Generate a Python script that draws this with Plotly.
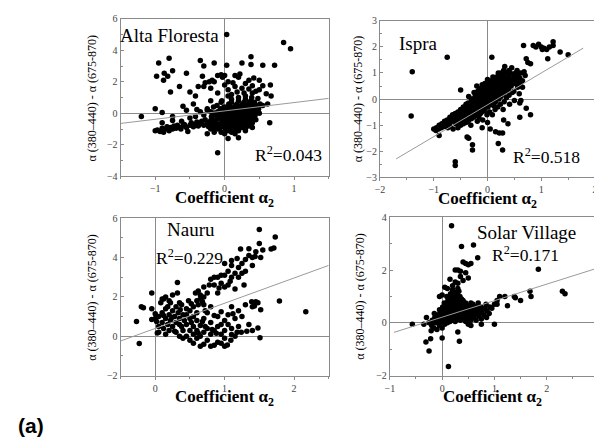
import plotly.graph_objects as go

# ── Data ──────────────────────────────────────────────────────────────────────
SITES = ["Alta Floresta", "Ispra", "Nauru", "Solar Village"]
R2_LABELS = ["R<sup>2</sup>=0.043", "R<sup>2</sup>=0.518", "R<sup>2</sup>=0.229", "R<sup>2</sup>=0.171"]

# linear fits: slope, intercept, x-span of the drawn line
FIT_SLOPE = [0.53, 1.22, 1.28, 0.625]
FIT_INTERCEPT = [0.155, -0.22, 0.40, 0.215]
FIT_XSPAN = [(-1.5, 1.5), (-1.7, 1.78), (-0.5, 2.5), (-0.92, 3.0)]

X_RANGES = [(-1.5, 1.5), (-2, 2), (-0.5, 2.5), (-1, 3)]
Y_RANGES = [(-4, 6), (-3, 3), (-2, 6), (-2, 4)]
Y_DTICK = [2, 1, 2, 2]

alta_pts = [
    (0.03, 5.0), (0.85, 4.5), (0.95, 4.1), (-0.95, 3.2), (-0.8, 3.5), (-0.35, 3.35), (-0.3, 3.0),
    (-0.15, 3.2), (0.03, 3.05), (0.25, 3.2), (0.38, 3.6), (0.38, 3.1), (0.55, 3.05), (0.72, 3.05),
    (-0.98, 2.35), (-0.87, 2.55), (-0.82, 2.35), (-0.88, 2.1), (-0.75, 2.7), (-0.55, 2.55),
    (-0.65, 1.7), (-0.78, 1.35), (-0.5, 1.35), (-0.42, 1.1), (-0.38, 1.7), (-0.32, 2.35),
    (-0.3, 1.7), (-0.28, 1.95), (-0.22, 2.0), (-0.18, 2.1), (-0.15, 2.0), (-0.1, 2.4),
    (-0.05, 2.45), (-0.03, 2.3), (0.0, 2.4), (0.15, 2.4), (0.22, 2.5), (0.2, 2.3), (0.3, 1.9),
    (0.35, 2.1), (0.42, 2.25), (0.5, 2.1), (0.55, 1.75), (0.66, 1.8), (0.5, 1.5), (0.45, 1.4),
    (0.6, 1.25), (0.67, 1.1), (0.62, 0.6), (0.65, -0.6), (-0.1, -2.5), (-1.0, 0.3), (-0.9, 0.05),
    (-0.75, -0.2), (-1.2, -0.2), (-0.25, 0.3), (-0.2, 0.8), (-0.1, 1.3), (0.05, 1.5), (0.1, 1.2),
    (0.1, 0.9), (-0.05, 0.7), (0.15, -1.3), (0.2, -1.55), (0.05, -1.6), (-0.25, -1.3),
    (0.3, -1.1), (0.4, -0.9), (-0.2, 1.6), (0.0, 1.8), (0.25, 1.6), (0.28, 1.3), (0.35, 1.55),
    (0.4, 1.75), (0.12, 1.95), (-0.45, 0.6), (-0.55, 0.2), (-0.6, 0.45), (-0.4, 0.25),
    (0.3, 1.1), (0.2, 1.0), (0.4, 1.3), (0.48, 0.95), (0.55, 0.5), (0.05, 1.1), (0.15, 1.7),
    (0.05, 2.0), (0.18, 1.35),
    # lower band
    (-1.0, -1.1), (-0.97, -1.05), (-0.93, -1.15), (-0.9, -0.95), (-0.88, -1.2), (-0.85, -1.0),
    (-0.83, -0.85), (-0.8, -1.1), (-0.78, -0.9), (-0.75, -1.0), (-0.73, -0.8), (-0.7, -0.95),
    (-0.68, -0.75), (-0.65, -0.9), (-0.63, -1.0), (-0.6, -0.8), (-0.58, -0.7), (-0.55, -0.9),
    (-0.53, -1.15), (-0.5, -0.75), (-0.48, -0.6), (-0.45, -0.85), (-0.43, -0.7), (-0.4, -0.55),
    (-0.38, -0.8), (-0.35, -0.65), (-0.33, -0.5), (-0.3, -0.75), (-0.28, -0.4), (-0.25, -0.6),
    (-0.23, -0.85), (-0.2, -0.45), (-0.9, -0.6), (-0.75, -0.45), (-0.62, -0.5), (-0.5, -0.3),
    (-0.42, -0.2), (-0.35, 0.1), (-0.3, -0.1), (-0.25, 0.2),
    # main cluster
    (-0.2, -1.0), (-0.21, -0.62), (-0.19, -0.2), (-0.2, 0.1),
    (-0.15, -1.2), (-0.16, -0.8), (-0.14, -0.4), (-0.15, 0.02), (-0.16, 0.4),
    (-0.1, -1.0), (-0.11, -0.7), (-0.09, -0.3), (-0.1, 0.1), (-0.11, 0.5),
    (-0.05, -1.2), (-0.06, -0.9), (-0.04, -0.5), (-0.05, -0.1), (-0.06, 0.3), (-0.04, 0.8),
    (0.0, -1.3), (0.01, -1.0), (-0.01, -0.6), (0.0, -0.3), (0.01, 0.0), (-0.01, 0.4),
    (0.05, -1.1), (0.04, -0.8), (0.06, -0.4), (0.05, -0.1), (0.04, 0.2), (0.06, 0.6),
    (0.1, -1.2), (0.11, -0.9), (0.09, -0.6), (0.1, -0.3), (0.11, 0.0), (0.09, 0.3), (0.1, 0.7),
    (0.15, -1.0), (0.14, -0.7), (0.16, -0.4), (0.15, -0.1), (0.14, 0.2), (0.16, 0.5),
    (0.2, -1.1), (0.21, -0.8), (0.19, -0.5), (0.2, -0.2), (0.21, 0.1), (0.19, 0.4), (0.2, 0.8),
    (0.25, -0.9), (0.24, -0.6), (0.26, -0.3), (0.25, 0.0), (0.24, 0.3), (0.26, 0.6),
    (0.3, -1.0), (0.31, -0.7), (0.29, -0.4), (0.3, -0.1), (0.31, 0.2), (0.29, 0.5), (0.3, 0.9),
    (0.35, -0.8), (0.34, -0.5), (0.36, -0.2), (0.35, 0.1), (0.34, 0.4), (0.36, 0.7),
    (0.4, -0.6), (0.41, -0.3), (0.39, 0.0), (0.4, 0.3), (0.41, 0.6), (0.39, 1.0),
    (0.45, -0.4), (0.44, -0.1), (0.46, 0.2), (0.45, 0.5),
    (0.5, 0.0), (0.49, 0.3), (0.51, 0.6),
    (-0.17, -0.95), (-0.17, -0.55), (-0.12, -0.85), (-0.12, -0.45), (-0.12, -0.1),
    (-0.07, -0.7), (-0.07, -0.3), (-0.07, 0.1), (-0.02, -0.8), (-0.02, -0.45), (-0.02, -0.15),
    (-0.02, 0.2), (0.03, -0.95), (0.03, -0.6), (0.03, -0.25), (0.03, 0.05), (0.03, 0.4),
    (0.08, -1.0), (0.08, -0.75), (0.08, -0.45), (0.08, -0.15), (0.08, 0.15), (0.08, 0.45),
    (0.13, -0.85), (0.13, -0.55), (0.13, -0.25), (0.13, 0.05), (0.13, 0.35), (0.18, -0.95),
    (0.18, -0.65), (0.18, -0.35), (0.18, -0.05), (0.18, 0.25), (0.18, 0.6), (0.23, -0.75),
    (0.23, -0.45), (0.23, -0.15), (0.23, 0.15), (0.23, 0.45), (0.28, -0.85), (0.28, -0.55),
    (0.28, -0.25), (0.28, 0.05), (0.28, 0.35), (0.28, 0.7), (0.33, -0.65), (0.33, -0.35),
    (0.33, -0.05), (0.33, 0.25), (0.33, 0.55), (0.38, -0.45), (0.38, -0.15), (0.38, 0.15),
    (0.38, 0.45), (0.38, 0.8), (0.43, -0.25), (0.43, 0.05), (0.43, 0.35), (0.43, 0.7),
    (0.48, 0.15), (0.48, 0.45),
]

ispra_pts = [
    (-1.4, 1.05), (-1.42, -0.65), (-0.75, 1.6), (-0.5, 0.35), (0.08, 1.6),
    (-0.6, -2.4), (-0.6, -2.55), (-0.38, -1.45), (-0.35, -1.5), (-0.28, -1.75), (-0.28, -1.95),
    (0.28, -1.95), (0.2, -1.7), (0.15, -1.25), (0.22, -1.3), (0.28, -1.3), (0.05, -1.15),
    (-0.1, -1.1), (-0.9, -1.4), (0.6, -0.7), (0.72, -0.35), (0.8, -0.6), (0.38, -0.95), (0.3, -0.8),
    (0.67, 2.05), (0.85, 2.05), (0.9, 2.0), (0.95, 2.1), (1.0, 2.0), (1.02, 1.9), (1.05, 1.95),
    (1.1, 1.9), (1.15, 2.0), (1.22, 2.2), (1.22, 2.05), (1.35, 1.8), (1.5, 1.7), (1.12, 1.55),
    (0.75, 1.4), (0.72, 1.55), (0.8, 1.35), (0.68, 1.05), (0.62, 1.0), (0.55, 1.1), (0.45, 1.2),
    (0.4, 1.1), (0.32, 1.25), (0.3, 1.1), (0.25, 1.0), (0.62, -0.05), (0.6, -0.15),
    (-1.0, -1.15), (-0.95, -1.1), (-0.96, -1.2), (-0.9, -1.0), (-0.91, -1.15),
    (-0.85, -0.95), (-0.86, -1.1), (-0.8, -0.85), (-0.81, -1.05),
    (-0.75, -0.8), (-0.76, -1.0), (-0.74, -1.1), (-0.7, -0.7), (-0.71, -0.9), (-0.69, -1.05),
    (-0.65, -0.6), (-0.66, -0.85), (-0.64, -1.15), (-0.6, -0.55), (-0.61, -0.75), (-0.59, -0.95),
    (-0.55, -0.5), (-0.56, -0.7), (-0.54, -0.9), (-0.55, -1.1),
    (-0.5, -0.4), (-0.51, -0.6), (-0.49, -0.8), (-0.5, -1.0),
    (-0.45, -0.3), (-0.46, -0.55), (-0.44, -0.75), (-0.45, -0.95),
    (-0.4, -0.2), (-0.41, -0.45), (-0.39, -0.65), (-0.4, -0.9),
    (-0.35, 0.1), (-0.36, -0.15), (-0.34, -0.4), (-0.35, -0.6), (-0.36, -0.85),
    (-0.3, 0.0), (-0.31, -0.25), (-0.29, -0.5), (-0.3, -0.75), (-0.31, -1.0),
    (-0.25, 0.25), (-0.26, 0.0), (-0.24, -0.2), (-0.25, -0.45), (-0.26, -0.7),
    (-0.2, 0.5), (-0.21, 0.2), (-0.19, -0.1), (-0.2, -0.35), (-0.21, -0.6), (-0.19, -0.85),
    (-0.15, 0.4), (-0.16, 0.1), (-0.14, -0.15), (-0.15, -0.4), (-0.16, -0.7),
    (-0.1, 0.55), (-0.11, 0.3), (-0.09, 0.05), (-0.1, -0.2), (-0.11, -0.5), (-0.09, -0.8),
    (-0.05, 0.6), (-0.06, 0.35), (-0.04, 0.1), (-0.05, -0.15), (-0.06, -0.45),
    (0.0, 0.75), (0.01, 0.45), (-0.01, 0.2), (0.0, -0.05), (0.01, -0.3), (-0.01, -0.6), (0.0, -0.9),
    (0.05, 0.6), (0.04, 0.35), (0.06, 0.1), (0.05, -0.2), (0.04, -0.5),
    (0.1, 0.85), (0.11, 0.55), (0.09, 0.3), (0.1, 0.05), (0.11, -0.25), (0.09, -0.6),
    (0.15, 0.7), (0.14, 0.45), (0.16, 0.2), (0.15, -0.1), (0.14, -0.4),
    (0.2, 1.0), (0.21, 0.75), (0.19, 0.5), (0.2, 0.25), (0.21, 0.0), (0.19, -0.3),
    (0.25, 0.85), (0.24, 0.6), (0.26, 0.35), (0.25, 0.1), (0.24, -0.2),
    (0.3, 0.95), (0.31, 0.7), (0.29, 0.45), (0.3, 0.2), (0.31, -0.1), (0.29, -0.4),
    (0.35, 0.8), (0.34, 0.55), (0.36, 0.3), (0.35, 0.05),
    (0.4, 0.9), (0.41, 0.65), (0.39, 0.4), (0.4, 0.15), (0.41, -0.2),
    (0.45, 0.75), (0.44, 0.5), (0.46, 0.25),
    (0.5, 0.85), (0.51, 0.6), (0.49, 0.3), (0.5, -0.05),
    (0.55, 0.7), (0.56, 0.45), (0.6, 0.8), (0.61, 0.55), (0.59, 0.2),
    (-0.83, -1.0), (-0.73, -0.85), (-0.68, -0.8), (-0.63, -0.7), (-0.58, -0.65), (-0.58, -0.85),
    (-0.53, -0.6), (-0.53, -0.8), (-0.48, -0.5), (-0.48, -0.7), (-0.43, -0.4), (-0.43, -0.6),
    (-0.43, -0.85), (-0.38, -0.3), (-0.38, -0.55), (-0.38, -0.75), (-0.33, -0.25), (-0.33, -0.5),
    (-0.33, -0.7), (-0.28, -0.1), (-0.28, -0.35), (-0.28, -0.6), (-0.23, 0.1), (-0.23, -0.1),
    (-0.23, -0.35), (-0.23, -0.55), (-0.18, 0.3), (-0.18, 0.05), (-0.18, -0.25), (-0.18, -0.5),
    (-0.13, 0.25), (-0.13, 0.0), (-0.13, -0.3), (-0.13, -0.55), (-0.08, 0.45), (-0.08, 0.2),
    (-0.08, -0.1), (-0.08, -0.35), (-0.03, 0.5), (-0.03, 0.25), (-0.03, 0.0), (-0.03, -0.3),
    (0.02, 0.6), (0.02, 0.3), (0.02, 0.05), (0.02, -0.2), (0.07, 0.7), (0.07, 0.45), (0.07, 0.2),
    (0.07, -0.1), (0.12, 0.7), (0.12, 0.4), (0.12, 0.15), (0.12, -0.15), (0.17, 0.85),
    (0.17, 0.6), (0.17, 0.35), (0.17, 0.05), (0.22, 0.9), (0.22, 0.6), (0.22, 0.35), (0.22, 0.1),
    (0.27, 0.95), (0.27, 0.7), (0.27, 0.45), (0.27, 0.2), (0.32, 1.05), (0.32, 0.8), (0.32, 0.55),
    (0.32, 0.3), (0.37, 0.95), (0.37, 0.7), (0.37, 0.45), (0.42, 1.0), (0.42, 0.75), (0.42, 0.5),
    (0.47, 0.95), (0.47, 0.65), (0.52, 1.0), (0.52, 0.75), (0.57, 0.9), (0.57, 0.6), (0.65, 0.7),
    (0.65, 0.45), (0.7, 0.9),
]

nauru_pts = [
    (-0.27, 0.75), (-0.23, -0.37), (-0.2, 1.5), (-0.17, 1.45), (-0.05, 1.4), (-0.05, 2.2),
    (-0.05, 0.85), (0.0, 0.9), (0.03, 0.17), (0.1, 1.9), (0.15, 2.0), (0.2, 1.8), (0.25, 2.1),
    (0.32, 2.73), (0.32, 2.2), (0.35, 1.7),
    # upper branch
    (0.6, 1.8), (0.7, 2.0), (0.7, 2.5), (0.75, 2.2), (0.8, 2.9), (0.85, 2.6), (0.9, 3.0),
    (0.95, 2.7), (1.0, 3.1), (1.0, 2.5), (1.05, 3.3), (1.1, 3.0), (1.1, 3.6), (1.15, 3.2),
    (1.2, 3.5), (1.2, 3.0), (1.25, 3.7), (1.23, 4.43), (1.3, 3.9), (1.35, 4.1), (1.35, 4.45),
    (1.4, 4.0), (1.44, 4.05), (1.5, 4.71), (1.5, 5.42), (1.52, 4.0), (1.55, 4.38), (1.67, 4.43),
    (1.71, 4.48), (1.73, 5.04), (1.3, 3.3), (1.4, 3.6), (1.28, 2.6), (1.15, 2.4), (1.05, 2.6),
    (0.9, 2.2), (0.95, 3.1), (1.1, 3.85), (1.0, 3.7), (0.85, 3.0), (0.78, 2.6), (1.18, 3.95),
    (1.45, 4.3), (0.92, 2.45), (1.08, 2.8), (1.25, 3.2), (0.65, 2.1),
    # lower right
    (1.79, 1.79), (2.17, 1.25), (1.51, -0.07), (1.52, 1.35), (1.43, 1.54), (1.48, 1.7),
    (1.39, 1.75), (1.48, 0.42), (1.4, 0.3), (1.32, 0.25), (1.24, 0.2), (1.1, 0.09),
    (1.04, -0.44), (1.09, -0.2),
    # lower cluster
    (0.4, 0.3), (0.45, 0.0), (0.45, 0.6), (0.5, 0.3), (0.5, -0.2), (0.55, 0.5), (0.55, 0.1),
    (0.6, -0.1), (0.6, 0.8), (0.6, 0.3), (0.65, 0.0), (0.65, 0.55), (0.7, -0.4), (0.7, 0.2),
    (0.7, 0.9), (0.75, 0.4), (0.75, -0.2), (0.8, 0.1), (0.8, 0.7), (0.85, -0.45), (0.85, 0.3),
    (0.9, -0.3), (0.9, 0.5), (0.9, 1.0), (0.95, 0.1), (0.95, 1.25), (1.0, 0.8), (1.0, -0.1),
    (1.0, 0.3), (1.05, 0.6), (1.05, 1.1), (1.1, 0.4), (1.1, 1.5), (1.15, 0.0), (1.15, 0.9),
    (1.2, 1.3), (1.2, 0.5), (1.25, 1.0), (1.3, 1.6), (1.35, 0.6), (1.4, 1.5), (1.45, 1.75),
    (0.35, 0.6), (0.3, 0.2), (0.35, 0.0), (0.4, -0.1), (0.55, -0.35), (0.65, -0.5), (0.8, -0.5),
    (1.0, -0.5), (0.95, -0.35), (0.75, 1.2), (0.8, 1.5), (0.55, 1.0), (0.5, 1.3), (0.45, 1.1),
    (0.85, 1.05), (0.95, 0.6), (1.12, 1.15), (1.18, 0.2), (0.62, 0.15), (0.72, 0.5),
    (0.82, 0.35), (0.88, 0.15), (0.52, 0.7), (0.68, 0.75),
    # left cluster
    (0.05, 0.5), (0.05, 1.0), (0.1, 0.7), (0.1, 1.2), (0.12, 0.4), (0.15, 0.9), (0.15, 1.4),
    (0.18, 0.6), (0.2, 1.1), (0.2, 0.3), (0.22, 0.8), (0.25, 1.3), (0.25, 0.5), (0.28, 1.0),
    (0.3, 0.7), (0.3, 1.5), (0.33, 1.2), (0.35, 0.9), (0.38, 1.6), (0.38, 0.5), (0.4, 1.1),
    (0.42, 0.8), (0.45, 1.4), (0.48, 1.8), (0.5, 0.9), (0.55, 1.5), (0.6, 1.2), (0.62, 1.6),
    (0.65, 1.9), (0.7, 1.6), (0.72, 1.3), (0.08, 1.7), (0.12, 1.9), (0.18, 1.5), (0.22, 1.7),
    (0.05, 0.2), (0.15, 0.1), (0.28, 0.25), (0.0, 1.15), (0.02, 0.75), (0.52, 1.65),
    (0.58, 2.2), (0.62, 2.3), (0.68, 1.75), (0.12, 1.05), (0.24, 0.95), (0.36, 1.35),
]

solar_pts = [
    (0.18, 3.68), (0.37, 2.89), (0.6, 2.95), (0.68, 2.46), (0.4, 2.3), (0.45, 2.25), (0.5, 2.2),
    (0.55, 2.25), (0.3, 2.0), (0.35, 1.95), (0.25, 2.0), (0.45, 1.9), (0.5, 1.7), (0.15, 1.65),
    (0.2, 1.4), (0.05, 1.35), (0.1, 1.3), (0.0, 1.05), (-0.05, 1.0), (0.3, 1.5), (0.4, 1.6),
    (0.35, 1.75), (0.25, 1.55), (1.84, 2.03), (2.3, 1.2), (2.35, 1.1), (1.68, 1.2), (1.7, 1.0),
    (1.5, 0.85), (1.38, 1.0), (1.4, 0.95), (1.25, 0.65), (1.2, 1.0), (1.1, 1.0), (1.05, 0.85),
    (1.0, 0.7), (1.05, 0.7), (0.95, 0.55), (1.0, -0.05), (2.99, 0.28), (-0.57, -0.05),
    (-0.35, -0.05), (-0.31, -0.73), (-0.22, -0.6), (-0.25, -1.07), (0.0, -0.57), (0.12, -1.65),
    (0.3, -0.35), (0.33, -0.7), (0.75, -0.05), (0.55, -0.1), (0.5, -0.05), (-0.3, 0.2),
    (-0.25, 0.0),
    (-0.2, -0.1), (-0.21, -0.3), (-0.19, 0.1),
    (-0.15, 0.0), (-0.16, -0.2), (-0.14, 0.2), (-0.15, 0.35),
    (-0.1, -0.25), (-0.11, 0.05), (-0.09, 0.3), (-0.1, 0.15),
    (-0.05, -0.1), (-0.06, 0.1), (-0.04, 0.35), (-0.05, 0.5),
    (0.0, -0.2), (0.01, 0.0), (-0.01, 0.2), (0.0, 0.4), (0.01, 0.6),
    (0.05, -0.05), (0.04, 0.15), (0.06, 0.35), (0.05, 0.55), (0.04, 0.75),
    (0.1, 0.0), (0.11, 0.2), (0.09, 0.4), (0.1, 0.6), (0.11, 0.85), (0.09, 1.0),
    (0.15, 0.05), (0.14, 0.3), (0.16, 0.5), (0.15, 0.7), (0.14, 0.9), (0.16, 1.1),
    (0.2, 0.1), (0.21, 0.25), (0.19, 0.45), (0.2, 0.65), (0.21, 0.85), (0.19, 1.05), (0.2, 1.25),
    (0.25, 0.05), (0.24, 0.35), (0.26, 0.55), (0.25, 0.75), (0.24, 0.95), (0.26, 1.15),
    (0.3, 0.15), (0.31, 0.3), (0.29, 0.5), (0.3, 0.7), (0.31, 0.9), (0.29, 1.1), (0.3, 1.3),
    (0.35, 0.1), (0.34, 0.4), (0.36, 0.6), (0.35, 0.8), (0.34, 1.0),
    (0.4, 0.2), (0.41, 0.45), (0.39, 0.65), (0.4, 0.85),
    (0.45, 0.05), (0.44, 0.3), (0.46, 0.55), (0.45, 0.75),
    (0.5, 0.15), (0.49, 0.4), (0.51, 0.65),
    (0.55, 0.1), (0.56, 0.3), (0.54, 0.55), (0.55, 0.75),
    (0.6, 0.2), (0.61, 0.45), (0.59, 0.7),
    (0.65, 0.1), (0.66, 0.35), (0.64, 0.6),
    (0.7, 0.25), (0.71, 0.5), (0.69, 0.75),
    (0.75, 0.15), (0.76, 0.4), (0.74, 0.6),
    (0.8, 0.3), (0.81, 0.55), (0.85, 0.2), (0.86, 0.45), (0.84, 0.7), (0.9, 0.35), (0.91, 0.6),
    (-0.12, 0.0), (-0.07, 0.2), (-0.02, 0.1), (-0.02, 0.3), (0.03, 0.25), (0.03, 0.45),
    (0.07, 0.1), (0.07, 0.3), (0.07, 0.5), (0.07, 0.7), (0.12, 0.1), (0.12, 0.3), (0.12, 0.5),
    (0.12, 0.75), (0.17, 0.2), (0.17, 0.4), (0.17, 0.6), (0.17, 0.8), (0.17, 1.0), (0.22, 0.15),
    (0.22, 0.35), (0.22, 0.55), (0.22, 0.75), (0.22, 0.95), (0.22, 1.15), (0.27, 0.25),
    (0.27, 0.45), (0.27, 0.65), (0.27, 0.85), (0.27, 1.05), (0.32, 0.2), (0.32, 0.4), (0.32, 0.6),
    (0.32, 0.8), (0.32, 1.0), (0.32, 1.2), (0.37, 0.3), (0.37, 0.5), (0.37, 0.7), (0.37, 0.9),
    (0.42, 0.35), (0.42, 0.55), (0.42, 0.75), (0.47, 0.2), (0.47, 0.45), (0.47, 0.65),
    (0.52, 0.3), (0.52, 0.5), (0.57, 0.4), (0.57, 0.65), (0.62, 0.3), (0.62, 0.55), (0.67, 0.45),
    (0.72, 0.35), (0.72, 0.6), (0.77, 0.5),
]

ALL_PTS = [alta_pts, ispra_pts, nauru_pts, solar_pts]

# ── Layout geometry: pixel boxes measured on the 602x440 reference ───────────
# the page body adds an 8 px margin, so the figure is 8 px smaller on each side
OFF = 8
W, H = 602 - OFF, 440 - OFF
BOXES = [(117, 328, 13, 175), (380, 598, 15, 176), (117, 328, 218, 380), (390, 602, 217, 380)]
YTITLE_X = [88, 358, 88, 360]
SITE_POS = [(167, 30), (419, 38), (188, 230), (529, 233)]
R2_POS = [(287, 152), (549, 154), (187, 258), (527, 255)]

SERIF = "Liberation Serif"
GRID = "#8a8a8a"


def px(x):
    return (x - OFF) / W


def py(y):
    return 1 - (y - OFF) / H


fig = go.Figure()
for i, pts in enumerate(ALL_PTS):
    xa = "x" if i == 0 else f"x{i+1}"
    ya = "y" if i == 0 else f"y{i+1}"
    fig.add_trace(go.Scatter(
        x=[p[0] for p in pts], y=[p[1] for p in pts], mode="markers",
        marker=dict(color="black", size=5.5), xaxis=xa, yaxis=ya, showlegend=False,
    ))
    x0, x1 = FIT_XSPAN[i]
    fig.add_trace(go.Scatter(
        x=[x0, x1], y=[FIT_INTERCEPT[i] + FIT_SLOPE[i] * x0, FIT_INTERCEPT[i] + FIT_SLOPE[i] * x1],
        mode="lines", line=dict(color="#9a9a9a", width=1), xaxis=xa, yaxis=ya, showlegend=False,
    ))

layout = dict(
    width=W, height=H, margin=dict(l=0, r=0, t=0, b=0),
    paper_bgcolor="white", plot_bgcolor="white", showlegend=False,
)
annotations = []
for i, (l, r, t, b) in enumerate(BOXES):
    suf = "" if i == 0 else str(i + 1)
    layout["xaxis" + suf] = dict(
        domain=[px(l), min(px(r), 1.0)], range=list(X_RANGES[i]), anchor="y" + suf,
        dtick=1, showline=True, mirror=True, linecolor=GRID, linewidth=1,
        showgrid=False, zeroline=True, zerolinecolor=GRID, zerolinewidth=1,
        ticks="outside", ticklen=3, tickcolor=GRID,
        minor=dict(dtick=0.5, ticks="outside", ticklen=2, tickcolor=GRID),
        tickfont=dict(family=SERIF, size=10, color="#444"),
    )
    layout["yaxis" + suf] = dict(
        domain=[py(b), py(t)], range=list(Y_RANGES[i]), anchor="x" + suf,
        dtick=Y_DTICK[i], showline=True, mirror=True, linecolor=GRID, linewidth=1,
        showgrid=False, zeroline=True, zerolinecolor=GRID, zerolinewidth=1,
        ticks="inside", ticklen=3, tickcolor=GRID,
        minor=dict(dtick=Y_DTICK[i] / 2, ticks="inside", ticklen=2, tickcolor=GRID),
        tickfont=dict(family=SERIF, size=10, color="#444"),
    )
    # x title
    annotations.append(dict(
        x=px((l + min(r, 598)) / 2), y=py(b + 23), xref="paper", yref="paper",
        text="<b>Coefficient α<sub>2</sub></b>", showarrow=False,
        font=dict(family=SERIF, size=17, color="black"), xanchor="center", yanchor="middle",
    ))
    # y title
    annotations.append(dict(
        x=px(YTITLE_X[i]), y=py((t + b) / 2), xref="paper", yref="paper",
        text="α (380–440) - α (675-870)", textangle=-90, showarrow=False,
        font=dict(family=SERIF, size=12, color="black"), xanchor="center", yanchor="middle",
    ))
    sx, sy = SITE_POS[i]
    annotations.append(dict(
        x=px(sx), y=py(sy), xref="paper", yref="paper", text=SITES[i], showarrow=False,
        font=dict(family=SERIF, size=19, color="black"), xanchor="center", yanchor="middle",
    ))
    rx, ry = R2_POS[i]
    annotations.append(dict(
        x=px(rx), y=py(ry), xref="paper", yref="paper", text=R2_LABELS[i], showarrow=False,
        font=dict(family=SERIF, size=17.5, color="black"), xanchor="center", yanchor="middle",
    ))

annotations.append(dict(
    x=px(26), y=py(431), xref="paper", yref="paper", text="<b>(a)</b>", showarrow=False,
    font=dict(family="Liberation Sans", size=21, color="black"), xanchor="center", yanchor="middle",
))
layout["annotations"] = annotations
fig.update_layout(**layout)
fig.write_html("out.html")
